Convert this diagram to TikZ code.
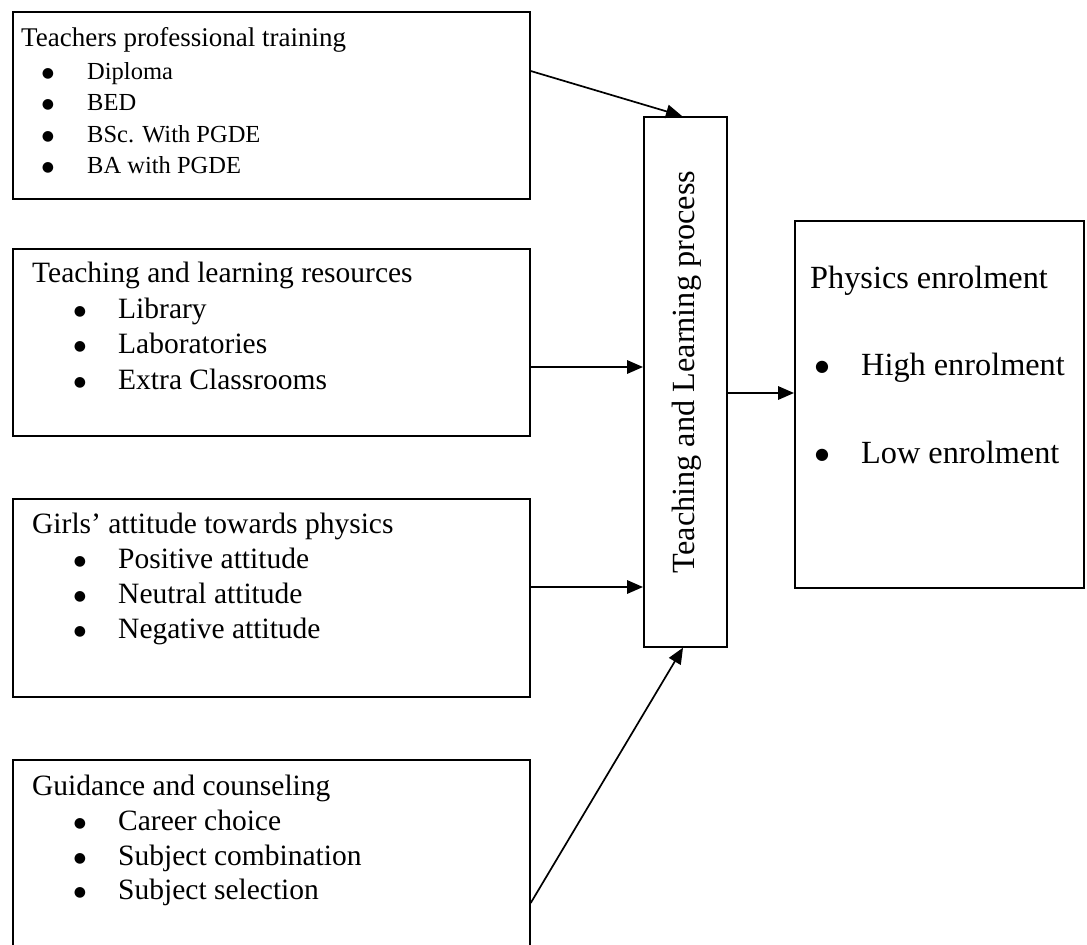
\documentclass[tikz,border=0pt]{standalone}
\usepackage{fontspec}
\setmainfont{Liberation Serif}
\newfontfamily\bulfont{DejaVu Sans}
\usetikzlibrary{arrows.meta,calc}
\tikzset{
  boxnode/.style={draw=black, line width=1.7pt, rectangle, inner sep=0pt, anchor=north west},
  conn/.style={draw=black, line width=1.7pt, -{Triangle[length=16pt,width=13.5pt]}},
  txt/.style={anchor=base west, inner sep=0pt, text=black},
  bul/.style={anchor=center, inner sep=0pt, text=black},
}
\newcommand{\fA}{\fontsize{27}{32}\selectfont}
\newcommand{\fB}{\fontsize{24.5}{29}\selectfont}
\newcommand{\fC}{\fontsize{29.5}{35}\selectfont}
\newcommand{\fD}{\fontsize{32.3}{38}\selectfont}
\newcommand{\fE}{\fontsize{32.3}{38}\selectfont}
\newcommand{\bS}{{\bulfont\fontsize{14}{14}\selectfont ●}}
\newcommand{\bL}{{\bulfont\fontsize{16}{16}\selectfont ●}}
\begin{document}
\begin{tikzpicture}[x=1pt,y=-1pt]
\useasboundingbox (0,0) rectangle (1087,945);
\clip (0,0) rectangle (1087,945);
\fill[white] (0,0) rectangle (1087,945);
% boxes
\node[boxnode, minimum width=517pt, minimum height=187pt] (b1) at (12,11) {};
\node[boxnode, minimum width=517pt, minimum height=187pt] (b2) at (12,248) {};
\node[boxnode, minimum width=517pt, minimum height=198pt] (b3) at (12,498) {};
\node[boxnode, minimum width=517pt, minimum height=230pt] (b4) at (12,759) {};
\node[boxnode, minimum width=83pt, minimum height=530pt] (mid) at (643,116) {};
\node[boxnode, minimum width=289pt, minimum height=367pt] (res) at (794,220) {};
% box 1 text
\node[txt] (t1) at (21,46) {\fA Teachers professional training};
\node[bul] (b1u1) at (48,73.5) {\bS};
\node[txt] (t1a) at (87,79) {\fB Diploma};
\node[bul] (b1u2) at (48,104.5) {\bS};
\node[txt] (t1b) at (87,110) {\fB BED};
\node[bul] (b1u3) at (48,136.5) {\bS};
\node[txt] (t1c) at (87,142) {\fB BSc. With PGDE};
\node[bul] (b1u4) at (48,167.5) {\bS};
\node[txt] (t1d) at (87,173) {\fB BA with PGDE};
% box 2 text
\node[txt] (t2) at (32,282) {\fC Teaching and learning resources};
\node[bul] (b2u1) at (80,311.5) {\bS};
\node[txt] (t2a) at (118,318) {\fC Library};
\node[bul] (b2u2) at (80,346.5) {\bS};
\node[txt] (t2b) at (118,353) {\fC Laboratories};
\node[bul] (b2u3) at (80,382.5) {\bS};
\node[txt] (t2c) at (118,389) {\fC Extra Classrooms};
% box 3 text
\node[txt] (t3) at (32,533) {\fC Girls’ attitude towards physics};
\node[bul] (b3u1) at (80,561.5) {\bS};
\node[txt] (t3a) at (118,568) {\fC Positive attitude};
\node[bul] (b3u2) at (80,596.5) {\bS};
\node[txt] (t3b) at (118,603) {\fC Neutral attitude};
\node[bul] (b3u3) at (80,631.5) {\bS};
\node[txt] (t3c) at (118,638) {\fC Negative attitude};
% box 4 text
\node[txt] (t4) at (32,795) {\fC Guidance and counseling};
\node[bul] (b4u1) at (80,823.5) {\bS};
\node[txt] (t4a) at (118,830) {\fC Career choice};
\node[bul] (b4u2) at (80,858.5) {\bS};
\node[txt] (t4b) at (118,865) {\fC Subject combination};
\node[bul] (b4u3) at (80,892.5) {\bS};
\node[txt] (t4c) at (118,899) {\fC Subject selection};
% middle text
\node[anchor=base, inner sep=0pt, rotate=90] (tm) at (694,372) {\fE Teaching and Learning process};
% result text
\node[txt] (tr) at (810,288) {\fD Physics enrolment};
\node[bul] (ru1) at (822,367.5) {\bL};
\node[txt] (tra) at (861,375) {\fD High enrolment};
\node[bul] (ru2) at (822,455.5) {\bL};
\node[txt] (trb) at (861,463) {\fD Low enrolment};
% connectors
\draw[conn] ($(b1.north east)+(0,60)$) -- ($(mid.north west)+(39,0)$);
\draw[conn] ($(b2.north east)+(0,119)$) -- ($(mid.north west)+(0,251)$);
\draw[conn] ($(b3.north east)+(0,89)$) -- ($(mid.north west)+(0,471)$);
\draw[conn] ($(b4.north east)+(0,144)$) -- ($(mid.south west)+(40,0)$);
\draw[conn] ($(mid.north east)+(0,277)$) -- ($(res.north west)+(0,173)$);
\end{tikzpicture}
\end{document}
